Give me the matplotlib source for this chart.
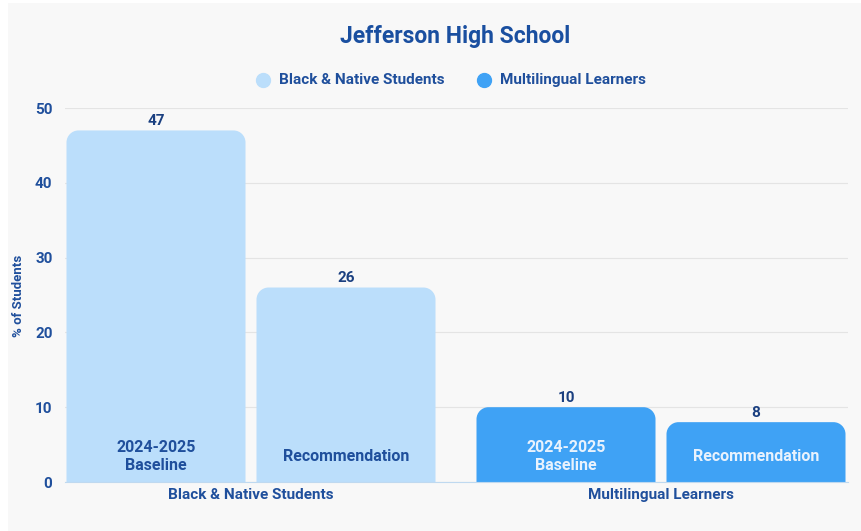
import matplotlib.pyplot as plt
from matplotlib.path import Path
from matplotlib.patches import PathPatch, Rectangle

plt.rcParams['font.family'] = ['Roboto', 'DejaVu Sans']

# Chart data
groups = ["Black & Native Students", "Multilingual Learners"]
baseline = [47, 10]
recommendation = [26, 8]
bar_labels = ["2024-2025\nBaseline", "Recommendation"]
colors = ["#bbdefb", "#3fa2f5"]
inner_text = ["#1f4f9c", "#e8f2fd"]

text_color = "#1f4f9c"
bg = "#f8f8f8"

fig = plt.figure(figsize=(8.61, 5.31), dpi=100, facecolor=bg)
# white strip at left/top edge like the screenshot
fig.add_artist(Rectangle((0, 0), 8 / 861, 1, transform=fig.transFigure,
                         facecolor="white", edgecolor="none"))
fig.add_artist(Rectangle((0, 1 - 3 / 531), 1, 3 / 531, transform=fig.transFigure,
                         facecolor="white", edgecolor="none"))

ax = fig.add_axes([65 / 861, 1 - 482 / 531, (848 - 65) / 861, (482 - 108) / 531])
ax.set_facecolor(bg)

width = 179 / 410
offset = 95 / 410
ax.set_xlim(-186 / 410, 597 / 410)
ax.set_ylim(0, 50)


def rounded_bar(x, h, w, color, r_px=12):
    # radius in data units, x and y scale differ
    rx = r_px / 410
    ry = r_px / 7.48
    ry = min(ry, h)
    x0, x1 = x - w / 2, x + w / 2
    k = 0.5523
    verts = [
        (x0, 0), (x0, h - ry),
        (x0, h - ry + k * ry), (x0 + rx - k * rx, h), (x0 + rx, h),
        (x1 - rx, h),
        (x1 - rx + k * rx, h), (x1, h - ry + k * ry), (x1, h - ry),
        (x1, 0), (x0, 0),
    ]
    codes = [Path.MOVETO, Path.LINETO,
             Path.CURVE4, Path.CURVE4, Path.CURVE4,
             Path.LINETO,
             Path.CURVE4, Path.CURVE4, Path.CURVE4,
             Path.LINETO, Path.CLOSEPOLY]
    ax.add_patch(PathPatch(Path(verts, codes), facecolor=color, edgecolor="none", zorder=2))


for i, g in enumerate(groups):
    for j, vals in enumerate([baseline, recommendation]):
        x = i + (-offset if j == 0 else offset)
        v = vals[i]
        rounded_bar(x, v, width, colors[i])
        ax.text(x, v + 0.3, str(v), ha="center", va="bottom", fontsize=11,
                fontweight="bold", color="#1a3f80")
        ax.text(x, 3.35, bar_labels[j], ha="center", va="center", fontsize=11.5,
                fontweight="bold", color=inner_text[i], linespacing=1.25, zorder=3)

ax.set_xticks([0, 1])
ax.set_xticklabels(groups, fontsize=11, fontweight="bold", color=text_color)
ax.tick_params(axis="x", length=0, pad=4)
ax.set_yticks([0, 10, 20, 30, 40, 50])
ax.tick_params(axis="y", length=0, pad=9, labelsize=11, labelcolor=text_color)
for lbl in ax.get_yticklabels():
    lbl.set_fontweight("bold")
ax.grid(axis="y", color="#e4e4e4", linewidth=0.8, zorder=0)
ax.set_axisbelow(True)
for s in ["top", "right", "left"]:
    ax.spines[s].set_visible(False)
ax.spines["bottom"].set_color("#bfd9f0")

fig.text(19 / 861, 1 - 296 / 531, "% of Students", rotation=90, ha="center", va="center",
         fontsize=9.5, fontweight="bold", color=text_color)

fig.text(455 / 861, 1 - 36 / 531, "Jefferson High School", ha="center", va="center",
         fontsize=16.5, fontweight="bold", color="#1a4fa0")

# legend
leg_items = [(263, groups[0], colors[0]), (484, groups[1], colors[1])]
for px, name, c in leg_items:
    fig.add_artist(plt.Line2D([px / 861], [1 - 80 / 531], marker="o", markersize=10,
                              color=c, linestyle="none", transform=fig.transFigure))
    fig.text((px + 16) / 861, 1 - 80 / 531, name, ha="left", va="center",
             fontsize=11, fontweight="bold", color=text_color)

fig.savefig("out.png", dpi=100, facecolor=bg)
